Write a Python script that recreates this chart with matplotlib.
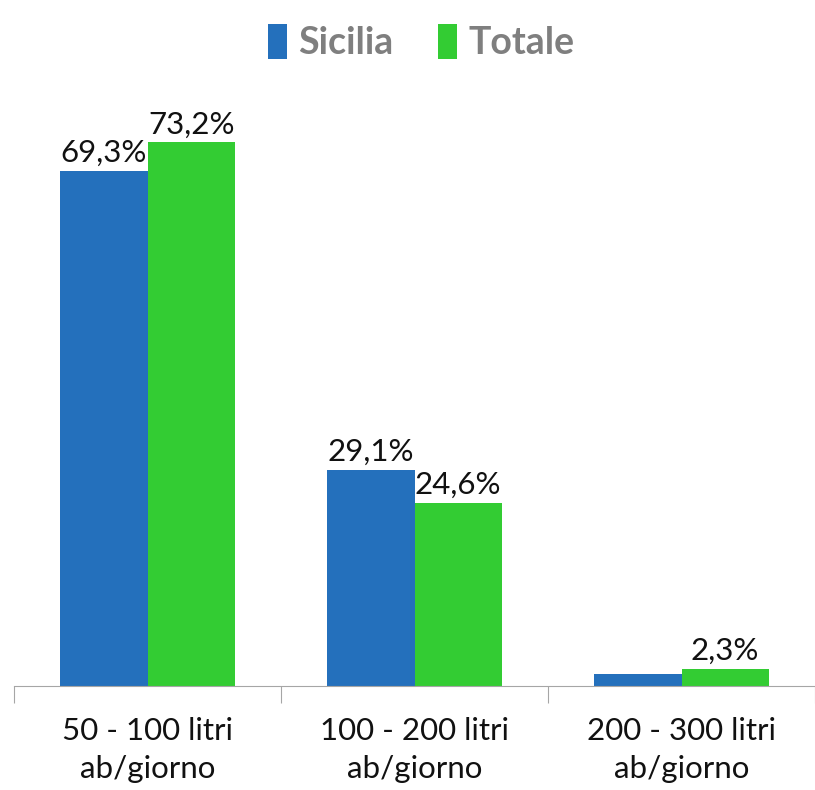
import numpy as np
import matplotlib.pyplot as plt

plt.rcParams['font.family'] = ['Lato', 'DejaVu Sans']

# dati
categorie = ["50 - 100 litri\nab/giorno", "100 - 200 litri\nab/giorno", "200 - 300 litri\nab/giorno"]
sicilia = [69.3, 29.1, 1.6]
totale = [73.2, 24.6, 2.3]
etichette_sicilia = ["69,3%", "29,1%", ""]
etichette_totale = ["73,2%", "24,6%", "2,3%"]

col_sicilia = "#2470BC"
col_totale = "#33CC33"

fig = plt.figure(figsize=(8.15, 7.9), dpi=100)
ax = fig.add_axes([14 / 815, 104 / 790, 801 / 815, 594 / 790])

x = np.arange(len(categorie))
w = 0.327
b1 = ax.bar(x - w / 2, sicilia, w, color=col_sicilia, label="Sicilia")
b2 = ax.bar(x + w / 2, totale, w, color=col_totale, label="Totale")

ax.bar_label(b1, labels=etichette_sicilia, padding=3, fontsize=22.5, color="#111111")
ax.bar_label(b2, labels=etichette_totale, padding=3, fontsize=22.5, color="#111111")

ax.set_xlim(-0.5, 2.478)
ax.set_ylim(0, 80)
ax.set_yticks([])
for s in ["top", "right", "left"]:
    ax.spines[s].set_visible(False)
ax.spines["bottom"].set_color("#A6A6A6")

# tick di separazione tra le categorie
ax.set_xticks(np.arange(-0.5, 3, 1.0))
ax.set_xticklabels([])
ax.tick_params(axis="x", length=12, color="#A6A6A6")
ax.set_xticks(x, minor=True)
ax.set_xticklabels(categorie, minor=True, fontsize=22.5, color="#111111", linespacing=1.45)
ax.tick_params(axis="x", which="minor", length=0, pad=22)

leg = fig.legend(loc="upper center", bbox_to_anchor=(0.517, 1.012), ncol=2, frameon=False,
                 handlelength=0.5, handleheight=1.05, handletextpad=0.3, columnspacing=1.2,
                 prop={"weight": "bold", "size": 27})
for t in leg.get_texts():
    t.set_color("#7F7F7F")

fig.savefig("out.png", dpi=100)
